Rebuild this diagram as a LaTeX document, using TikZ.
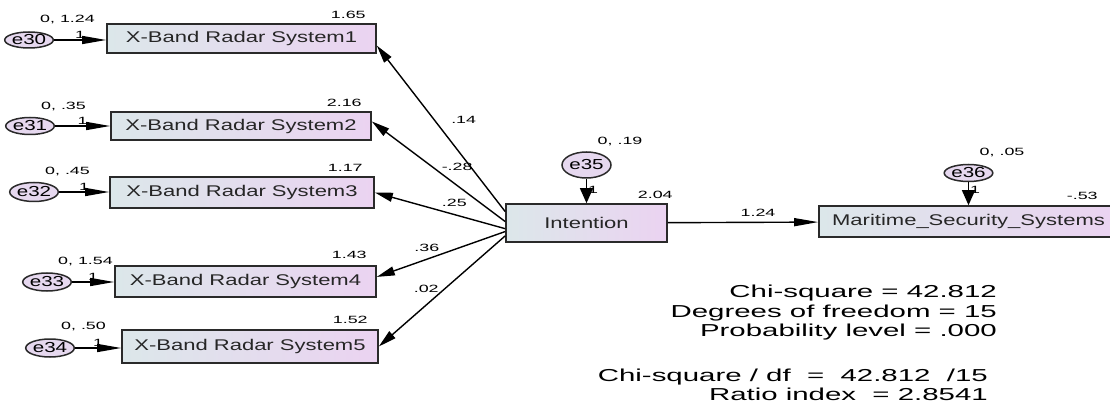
\documentclass[tikz,border=0pt]{standalone}
\usepackage{fontspec}
\usepackage{tikz}
\usetikzlibrary{arrows.meta, positioning, shapes.geometric}

\newfontfamily\amosfont[FakeStretch=1.42]{Liberation Sans}
\newfontfamily\amoswide[FakeStretch=1.7]{Liberation Sans}

\definecolor{boxleft}{HTML}{DCE7EA}
\definecolor{boxright}{HTML}{EBD3F1}
\definecolor{errfill}{HTML}{E6D8EF}
\definecolor{edgegray}{HTML}{2A2A2A}

\tikzset{
    observed/.style={rectangle, draw=edgegray, line width=1.6pt, left color=boxleft, right color=boxright,
        minimum height=30pt, inner sep=0pt, text=black!85, font=\amosfont\fontsize{15.5}{17}\selectfont},
    errvar/.style={ellipse, draw=edgegray, line width=1.5pt, fill=errfill,
        minimum width=40pt, minimum height=18pt, inner sep=0pt, font=\amosfont\fontsize{14.5}{16}\selectfont},
    est/.style={font=\amoswide\fontsize{10.5}{12}\selectfont, inner sep=1pt},
    fitstat/.style={anchor=east, align=right, inner sep=0pt, font=\amoswide\fontsize{17.3}{19.5}\selectfont},
    hreg/.style={-{Triangle[length=24pt,width=8pt]}, line width=1.4pt},
    dreg/.style={-{Triangle[length=18pt,width=9pt]}, line width=1.4pt},
    vreg/.style={-{Triangle[length=15pt,width=13pt]}, line width=1.4pt}
}

\begin{document}
\begin{tikzpicture}[x=1pt, y=-1pt]
        \useasboundingbox (0,0) rectangle (1110,403);
        \clip (0,0) rectangle (1110,403);

        % Observed variables
        \node[observed, minimum width=269pt, minimum height=29pt] (b1) at (241.5,38.5) {X-Band Radar System1};
        \node[observed, minimum width=260pt, minimum height=28pt] (b2) at (241,126) {X-Band Radar System2};
        \node[observed, minimum width=264pt, minimum height=31pt] (b3) at (242,192.5) {X-Band Radar System3};
        \node[observed, minimum width=261pt, minimum height=31pt] (b4) at (245.5,281.5) {X-Band Radar System4};
        \node[observed, minimum width=256pt, minimum height=33pt] (b5) at (250,346.5) {X-Band Radar System5};
        \node[observed, minimum width=161pt, minimum height=38pt] (intent) at (586.5,223) {Intention};
        \node[observed, minimum width=299pt, minimum height=31pt] (mss) at (968.5,221.5) {Maritime\_Security\_Systems};

        % Error terms
        \node[errvar, minimum width=38pt, minimum height=16pt] (e30) at (29,40) {e30};
        \node[errvar, minimum width=38pt, minimum height=17pt] (e31) at (30,126) {e31};
        \node[errvar, minimum width=41pt, minimum height=19pt] (e32) at (34,192) {e32};
        \node[errvar, minimum width=43pt, minimum height=18pt] (e33) at (47,282) {e33};
        \node[errvar, minimum width=44pt, minimum height=18pt] (e34) at (50,348) {e34};
        \node[errvar, minimum width=49pt, minimum height=26pt] (e35) at (586.5,165) {e35};
        \node[errvar, minimum width=44pt, minimum height=17pt] (e36) at (968.5,173) {e36};

        % Means and variances
        \node[est, anchor=west] (v30) at ([xshift=10pt,yshift=20pt]e30.center) {0, 1.24};
        \node[est, anchor=west] (v31) at ([xshift=10pt,yshift=19pt]e31.center) {0, .35};
        \node[est, anchor=west] (v32) at ([xshift=10pt,yshift=20pt]e32.center) {0, .45};
        \node[est, anchor=west] (v33) at ([xshift=10pt,yshift=20pt]e33.center) {0, 1.54};
        \node[est, anchor=west] (v34) at ([xshift=10pt,yshift=21pt]e34.center) {0, .50};
        \node[est, anchor=west] (v35) at ([xshift=10pt,yshift=23pt]e35.center) {0, .19};
        \node[est, anchor=west] (v36) at ([xshift=10pt,yshift=20pt]e36.center) {0, .05};

        % Intercepts
        \node[est, anchor=east] (i1) at ([xshift=-10pt,yshift=8pt]b1.north east) {1.65};
        \node[est, anchor=east] (i2) at ([xshift=-9pt,yshift=8.5pt]b2.north east) {2.16};
        \node[est, anchor=east] (i3) at ([xshift=-11pt,yshift=8pt]b3.north east) {1.17};
        \node[est, anchor=east] (i4) at ([xshift=-9pt,yshift=10pt]b4.north east) {1.43};
        \node[est, anchor=east] (i5) at ([xshift=-10pt,yshift=9pt]b5.north east) {1.52};
        \node[est, anchor=east] (i6) at ([xshift=6pt,yshift=8pt]intent.north east) {2.04};
        \node[est, anchor=east] (i7) at ([xshift=-20pt,yshift=9pt]mss.north east) {-.53};

        % Regression paths
        \draw (intent.172) edge[dreg] node[est, pos=0.55, right=15pt]{.14} (b1.357)
            (intent.179) edge[dreg] node[est, pos=0.36, above=13pt]{-.28} (b2.2)
            (intent.184) edge[dreg] node[est, pos=0.39, above=6pt]{.25} (b3.east)
            (intent.186) edge[dreg] node[est, pos=0.61, above=6pt]{.36} (b4.2)
            (intent.189) edge[dreg] node[est, pos=0.625, above=11pt]{.02} (b5.east);
        \draw (intent) edge[hreg] node[est, pos=0.6, above=4pt]{1.24} (mss);

        % Error paths
        \draw (e30) edge[hreg] node[est, above]{1} (e30 -| b1.west)
            (e31) edge[hreg] node[est, above]{1} (e31 -| b2.west)
            (e32) edge[hreg] node[est, above]{1} (e32 -| b3.west)
            (e33) edge[hreg] node[est, above]{1} (e33 -| b4.west)
            (e34) edge[hreg] node[est, above]{1} (e34 -| b5.west);
        \draw (e35) edge[vreg] node[est, pos=0.45, right]{1} (intent)
            (e36) edge[vreg] node[est, pos=0.35, right]{1} (mss);

        % Fit statistics
        \node[fitstat] (fit1) at (997,313)
            {Chi-square = 42.812\\Degrees of freedom = 15\\Probability level = .000};
        \node[fitstat] (fit2) at (988,385)
            {Chi-square / df \ = \ 42.812 \ /15\\Ratio index \ = 2.8541};
\end{tikzpicture}
\end{document}
